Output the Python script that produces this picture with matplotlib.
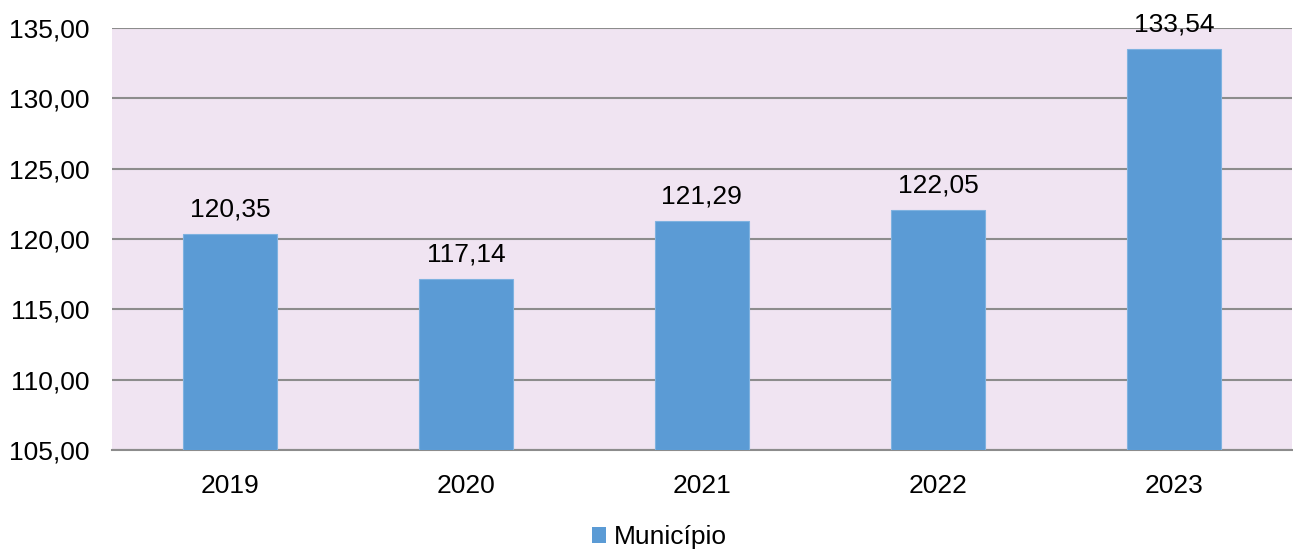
import matplotlib

matplotlib.use("Agg")

import matplotlib.pyplot as plt
from matplotlib.patches import Patch

years = ["2019", "2020", "2021", "2022", "2023"]
values = [120.35, 117.14, 121.29, 122.05, 133.54]
series_name = "Município"

bar_color = "#5B9BD5"
bg_color = "#F0E4F2"
grid_color = "#8C8C8C"

plt.rcParams["font.family"] = ["Liberation Sans", "DejaVu Sans"]
fs = 19

fig = plt.figure(figsize=(12.93, 5.5), dpi=100)
ax = fig.add_axes([0.0866, 0.182, 0.9125, 0.767])
ax.set_facecolor(bg_color)

x = range(len(years))
ax.bar(x, [v - 105 for v in values], bottom=105, width=0.4,
       color=bar_color, edgecolor="#7FB2E0", linewidth=0.8, zorder=3)

for xi, v in zip(x, values):
    ax.annotate(f"{v:.2f}".replace(".", ","), (xi, v),
                xytext=(0, 9), textcoords="offset points",
                ha="center", va="bottom", fontsize=fs, zorder=4)

ax.set_xlim(-0.5, len(years) - 0.5)
ax.set_ylim(105, 135)
ax.set_yticks(range(105, 136, 5))
ax.set_yticklabels([f"{t:.2f}".replace(".", ",") for t in range(105, 136, 5)])
ax.set_xticks(list(x))
ax.set_xticklabels(years)
ax.tick_params(axis="both", length=0, labelsize=fs)
ax.tick_params(axis="y", pad=16)
ax.tick_params(axis="x", pad=17)

ax.grid(axis="y", color=grid_color, linewidth=1.5, zorder=1)
ax.set_axisbelow(True)
for side in ["left", "right", "top"]:
    ax.spines[side].set_visible(False)
ax.spines["bottom"].set_color(grid_color)
ax.spines["bottom"].set_linewidth(1.5)

handles = [Patch(facecolor=bar_color, label=series_name)]
fig.legend(handles=handles, loc="center", bbox_to_anchor=(0.51, 0.023),
           frameon=False, fontsize=fs, handlelength=0.55, handleheight=0.55,
           handletextpad=0.3)

fig.savefig("out.png", dpi=100)
